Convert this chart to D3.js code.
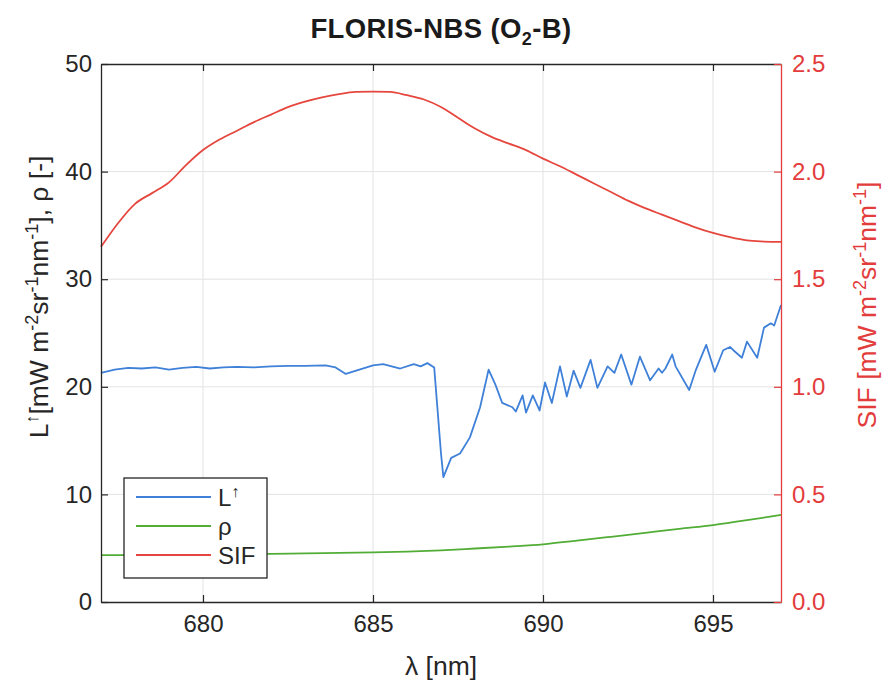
<!DOCTYPE html>
<html><head><meta charset="utf-8">
<script src="https://cdn.jsdelivr.net/npm/d3@7"></script>
<style>body{margin:0;background:#fff} text{font-family:"Liberation Sans",Arial,Helvetica,sans-serif}</style>
</head><body><svg id="c" width="885" height="687"></svg>
<script>
// ---- data ----
const xTicks = [680, 685, 690, 695];
const xTickLabels = ["680", "685", "690", "695"];
const yLeftTicks = [0, 10, 20, 30, 40, 50];
const yLeftLabels = ["0", "10", "20", "30", "40", "50"];
const yRightTicks = [0, 0.5, 1, 1.5, 2, 2.5];
const yRightLabels = ["0.0", "0.5", "1.0", "1.5", "2.0", "2.5"];
const seriesNames = ["L", "ρ", "SIF"];

const sifWl = [677,677.5,678,678.5,679,679.5,680,680.5,681,681.5,682,682.5,683,683.5,684,684.5,685,685.5,686,686.5,687,687.5,688,688.5,689,689.5,690,690.5,691,691.5,692,692.5,693,693.5,694,694.5,695,695.5,696,696.5,697];
const sifVal = [1.65,1.76,1.85,1.90,1.95,2.03,2.10,2.15,2.19,2.23,2.265,2.30,2.325,2.345,2.36,2.37,2.372,2.37,2.355,2.335,2.30,2.25,2.20,2.16,2.13,2.10,2.06,2.025,1.985,1.945,1.905,1.865,1.83,1.80,1.77,1.74,1.715,1.695,1.68,1.675,1.673];

const rhoWl = [677,678,679,680,681,682,683,684,685,686,687,688,689,690,691,692,693,694,695,696,697];
const rhoVal = [4.35,4.37,4.39,4.42,4.45,4.48,4.52,4.56,4.61,4.69,4.80,4.97,5.15,5.36,5.70,6.06,6.43,6.80,7.15,7.60,8.10];

const lWl = [677.0,677.4,677.8,678.2,678.6,679.0,679.4,679.8,680.2,680.6,681.0,681.5,682.0,682.5,683.0,683.6,683.9,684.2,684.6,685.0,685.3,685.8,686.2,686.4,686.6,686.8,687.0,687.07,687.3,687.56,687.85,688.15,688.4,688.6,688.8,689.1,689.2,689.4,689.5,689.7,689.9,690.06,690.26,690.5,690.7,690.9,691.1,691.4,691.6,691.9,692.1,692.3,692.6,692.85,693.15,693.4,693.5,693.6,693.8,693.9,694.3,694.5,694.8,695.05,695.3,695.5,695.6,695.85,696.0,696.3,696.5,696.7,696.8,697.0];
const lVal = [21.3,21.6,21.75,21.7,21.8,21.6,21.75,21.85,21.7,21.8,21.85,21.8,21.9,21.95,21.95,22.0,21.8,21.2,21.6,22.0,22.1,21.7,22.1,21.9,22.2,21.8,13.8,11.6,13.4,13.8,15.3,18.1,21.6,20.2,18.5,18.1,17.7,19.2,17.6,19.2,17.8,20.4,18.5,21.9,19.1,21.5,19.9,22.5,19.9,21.9,21.3,23.0,20.2,22.8,20.6,21.7,21.3,21.7,23.0,21.9,19.7,21.6,23.9,21.4,23.4,23.7,23.4,22.7,24.2,22.7,25.5,25.9,25.7,27.6];

// ---- layout ----
const L = 101, R = 781, T = 64, B = 602;
const cBlue = "#3f80d8", cGreen = "#52ad36", cRed = "#e5473e", cRedAx = "#e33c3c", cAx = "#262626";
const fTick = 24, fLab = 26.5;

const svg = d3.select("#c");
const x = d3.scaleLinear().domain([677, 697]).range([L, R]);
const yL = d3.scaleLinear().domain([0, 50]).range([B, T]);
const yR = d3.scaleLinear().domain([0, 2.5]).range([B, T]);

// grid
const g = svg.append("g");
g.selectAll("line.gx").data(xTicks).join("line")
  .attr("x1", d => x(d)).attr("x2", d => x(d)).attr("y1", T).attr("y2", B)
  .attr("stroke", "#e3e3e3").attr("stroke-width", 1);
g.selectAll("line.gy").data(yLeftTicks.slice(1, -1)).join("line")
  .attr("x1", L).attr("x2", R).attr("y1", d => yL(d)).attr("y2", d => yL(d))
  .attr("stroke", "#e3e3e3").attr("stroke-width", 1);

// lines
const lineL = d3.line().x(d => x(d[0])).y(d => yL(d[1]));
const lineR = d3.line().x(d => x(d[0])).y(d => yR(d[1])).curve(d3.curveMonotoneX);
const lineRho = d3.line().x(d => x(d[0])).y(d => yL(d[1])).curve(d3.curveMonotoneX);
svg.append("path").datum(lWl.map((w, i) => [w, lVal[i]])).attr("d", lineL)
  .attr("fill", "none").attr("stroke", cBlue).attr("stroke-width", 1.8).attr("stroke-linejoin", "round");
svg.append("path").datum(rhoWl.map((w, i) => [w, rhoVal[i]])).attr("d", lineRho)
  .attr("fill", "none").attr("stroke", cGreen).attr("stroke-width", 1.8);
svg.append("path").datum(sifWl.map((w, i) => [w, sifVal[i]])).attr("d", lineR)
  .attr("fill", "none").attr("stroke", cRed).attr("stroke-width", 1.8);

// axes
function style(sel, color, fs) {
  sel.selectAll("path.domain").attr("stroke", color).attr("stroke-width", 1.3);
  sel.selectAll(".tick line").attr("stroke", color).attr("stroke-width", 1.2);
  sel.selectAll(".tick text").attr("fill", color).style("font-size", fs + "px")
    .style("font-family", '"Liberation Sans",Arial,sans-serif');
}
const axB = svg.append("g").attr("transform", `translate(0,${B})`)
  .call(d3.axisBottom(x).tickValues(xTicks).tickFormat((d, i) => xTickLabels[i]).tickSize(-7).tickSizeOuter(0).tickPadding(13));
style(axB, cAx, fTick);
const axT = svg.append("g").attr("transform", `translate(0,${T})`)
  .call(d3.axisTop(x).tickValues(xTicks).tickFormat("").tickSize(-7).tickSizeOuter(0));
style(axT, cAx, fTick);
axT.selectAll(".tick text").remove();
const axL = svg.append("g").attr("transform", `translate(${L},0)`)
  .call(d3.axisLeft(yL).tickValues(yLeftTicks).tickFormat((d, i) => yLeftLabels[i]).tickSize(-7).tickSizeOuter(0).tickPadding(9));
style(axL, cAx, fTick);
const axR = svg.append("g").attr("transform", `translate(${R},0)`)
  .call(d3.axisRight(yR).tickValues(yRightTicks).tickFormat((d, i) => yRightLabels[i]).tickSize(-7).tickSizeOuter(0).tickPadding(11));
style(axR, cRedAx, fTick);

// title
const title = svg.append("text").attr("x", (L + R) / 2).attr("y", 38).attr("text-anchor", "middle")
  .style("font-size", "27.5px").style("font-weight", "bold").style("letter-spacing", "0.4px").attr("fill", "#1a1a1a");
title.append("tspan").text("FLORIS-NBS (O");
title.append("tspan").text("2").attr("dy", 7).style("font-size", "18px");
title.append("tspan").text("-B)").attr("dy", -7);

// x label
svg.append("text").attr("x", (L + R) / 2).attr("y", 675).attr("text-anchor", "middle")
  .style("font-size", fLab + "px").attr("fill", cAx).text("λ [nm]");

// text with superscripts (no empty tspans)
function supText(el, parts, fs) {
  let shift = 0;
  parts.forEach(p => {
    const ts = el.append("tspan").text(p.t);
    if (p.sup) {
      ts.attr("dy", -fs * 0.38 - shift).style("font-size", (fs * 0.68) + "px");
      shift = -fs * 0.38;
    } else {
      if (shift !== 0) ts.attr("dy", -shift);
      shift = 0;
    }
  });
}
const yl = svg.append("text").attr("transform", "translate(48,297) rotate(-90)").attr("text-anchor", "middle")
  .style("font-size", fLab + "px").attr("fill", cAx);
supText(yl, [{t: "L"}, {t: "↑", sup: true}, {t: "[mW m"}, {t: "-2", sup: true}, {t: "sr"}, {t: "-1", sup: true}, {t: "nm"}, {t: "-1", sup: true}, {t: "], ρ [-]"}], fLab);

const yr = svg.append("text").attr("transform", "translate(876,305) rotate(-90)").attr("text-anchor", "middle")
  .style("font-size", fLab + "px").attr("fill", cRedAx);
supText(yr, [{t: "SIF [mW m"}, {t: "-2", sup: true}, {t: "sr"}, {t: "-1", sup: true}, {t: "nm"}, {t: "-1", sup: true}, {t: "]"}], fLab);

// legend
const lg = svg.append("g");
lg.append("rect").attr("x", 124).attr("y", 478).attr("width", 143).attr("height", 100)
  .attr("fill", "#fff").attr("stroke", cAx).attr("stroke-width", 1.3);
const legColors = [cBlue, cGreen, cRed];
const legY = [497, 526, 555];
seriesNames.forEach((n, i) => {
  lg.append("line").attr("x1", 136).attr("x2", 211).attr("y1", legY[i]).attr("y2", legY[i])
    .attr("stroke", legColors[i]).attr("stroke-width", 1.8);
  const t = lg.append("text").attr("x", 218).attr("y", legY[i] + 9).style("font-size", "24px").attr("fill", cAx);
  if (i === 0) supText(t, [{t: n}, {t: "↑", sup: true}], 24);
  else t.text(n);
});
</script>
</body></html>
